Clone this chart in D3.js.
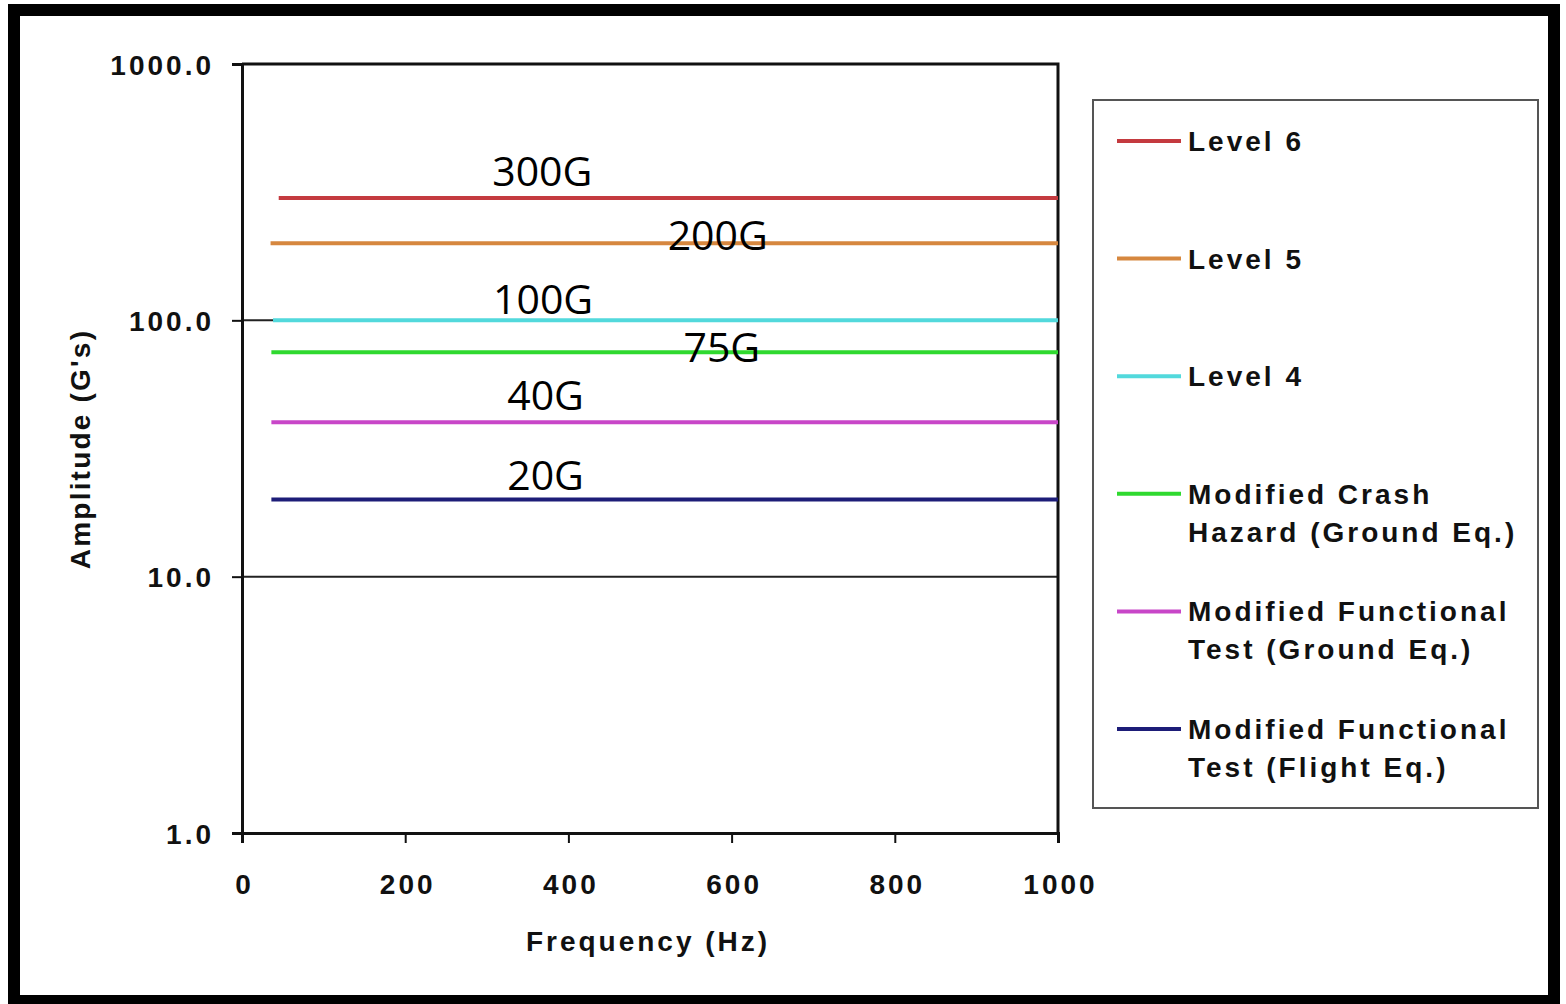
<!DOCTYPE html>
<html>
<head>
<meta charset="utf-8">
<script src="https://cdn.jsdelivr.net/npm/d3@7"></script>
<style>
  body { margin: 0; background: #fff; }
  svg { display: block; }
  .tick-label, .axis-title, .legend-text { font-family: "Liberation Sans", Arial, sans-serif; font-weight: bold; fill: #111; letter-spacing: 3px; }
  .note { font-family: "Open Sans", "Noto Sans", sans-serif; fill: #000; }
</style>
</head>
<body>
<div id="chart"></div>
<script>
// series data
const seriesNames = ['Level 6', 'Level 5', 'Level 4', 'Modified Crash|Hazard (Ground Eq.)', 'Modified Functional|Test (Ground Eq.)', 'Modified Functional|Test (Flight Eq.)']
const amplitudes = [300, 200, 100, 75, 40, 20]
const startFreq = [45, 35, 38, 36, 36, 36]
const endFreq = [1000, 1000, 1000, 1000, 1000, 1000]
const seriesColors = ['#c43a3f', '#d6873f', '#52d9dc', '#2fd92f', '#c846c8', '#1d1d78']

// annotations
const noteLabels = ['300G', '200G', '100G', '75G', '40G', '20G']
const noteFreq = [368, 583, 369, 588, 372, 372]
const noteDy = [-12, 7, -6, 10, -12, -10]

// axes
const xTicks = [0, 200, 400, 600, 800, 1000]
const yTicks = [1, 10, 100, 1000]
const yGrid = [10, 100]

const W = 1566, H = 1004
const svg = d3.select('#chart').append('svg').attr('width', W).attr('height', H)

// outer black frame
svg.append('rect')
  .attr('x', 14).attr('y', 10).attr('width', 1540).attr('height', 991)
  .attr('fill', 'none').attr('stroke', '#000').attr('stroke-width', 12)

const x = d3.scaleLinear().domain([0, 1000]).range([242, 1058])
const y = d3.scaleLog().domain([1, 1000]).range([833, 64])

// gridlines
svg.append('g').selectAll('line').data(yGrid).join('line')
  .attr('x1', x(0)).attr('x2', x(1000))
  .attr('y1', d => y(d)).attr('y2', d => y(d))
  .attr('stroke', '#222').attr('stroke-width', 2)

// plot border (top & right)
svg.append('path')
  .attr('d', `M${x(0)},${y(1000)}H${x(1000)}V${y(1)}`)
  .attr('fill', 'none').attr('stroke', '#111').attr('stroke-width', 3)

// y axis
const yAxis = svg.append('g').attr('transform', `translate(${x(0)},0)`)
  .call(d3.axisLeft(y).tickValues(yTicks).tickFormat(d3.format('.1f')).tickSize(10).tickPadding(18))
yAxis.select('.domain').attr('stroke', '#111').attr('stroke-width', 3)
yAxis.selectAll('.tick line').attr('stroke', '#111').attr('stroke-width', 2)
yAxis.selectAll('.tick text').attr('class', 'tick-label').style('font-size', '28px').attr('dy', '0.36em')

// x axis
const xAxis = svg.append('g').attr('transform', `translate(0,${y(1)})`)
  .call(d3.axisBottom(x).tickValues(xTicks).tickFormat(d3.format('d')).tickSize(10).tickPadding(31))
xAxis.select('.domain').attr('stroke', '#111').attr('stroke-width', 3)
xAxis.selectAll('.tick line').attr('stroke', '#111').attr('stroke-width', 2)
xAxis.selectAll('.tick text').attr('class', 'tick-label').style('font-size', '28px').attr('dx', '2px')

// axis titles
svg.append('text').attr('class', 'axis-title')
  .attr('x', 648).attr('y', 951).attr('text-anchor', 'middle')
  .style('font-size', '28px').text('Frequency (Hz)')
svg.append('text').attr('class', 'axis-title')
  .attr('transform', 'translate(90,449) rotate(-90)').attr('text-anchor', 'middle')
  .style('font-size', '28px').style('letter-spacing', '2.2px').text("Amplitude (G's)")

// series lines
const line = d3.line().x(d => x(d[0])).y(d => y(d[1]))
svg.append('g').selectAll('path').data(amplitudes).join('path')
  .attr('d', (d, i) => line([[startFreq[i], d], [endFreq[i], d]]))
  .attr('fill', 'none')
  .attr('stroke', (d, i) => seriesColors[i])
  .attr('stroke-width', 4)

// annotations
svg.append('g').selectAll('text').data(noteLabels).join('text')
  .attr('class', 'note')
  .attr('x', (d, i) => x(noteFreq[i]))
  .attr('y', (d, i) => y(amplitudes[i]) + noteDy[i])
  .attr('text-anchor', 'middle')
  .style('font-size', '41px')
  .text(d => d)

// legend
const legend = svg.append('g')
legend.append('rect')
  .attr('x', 1093).attr('y', 100).attr('width', 445).attr('height', 708)
  .attr('fill', '#fff').attr('stroke', '#555').attr('stroke-width', 2)

const items = legend.selectAll('g.item').data(seriesNames).join('g')
  .attr('class', 'item')
  .attr('transform', (d, i) => `translate(1117,${151 + i * 117.6})`)
items.append('line')
  .attr('x1', 0).attr('x2', 64).attr('y1', -10).attr('y2', -10)
  .attr('stroke', (d, i) => seriesColors[i]).attr('stroke-width', 4)
items.append('text').attr('class', 'legend-text')
  .attr('x', 71).style('font-size', '28px')
  .selectAll('tspan').data(d => d.split('|')).join('tspan')
  .attr('x', 71).attr('dy', (d, j) => j === 0 ? 0 : 38)
  .text(d => d)
</script>
</body>
</html>
